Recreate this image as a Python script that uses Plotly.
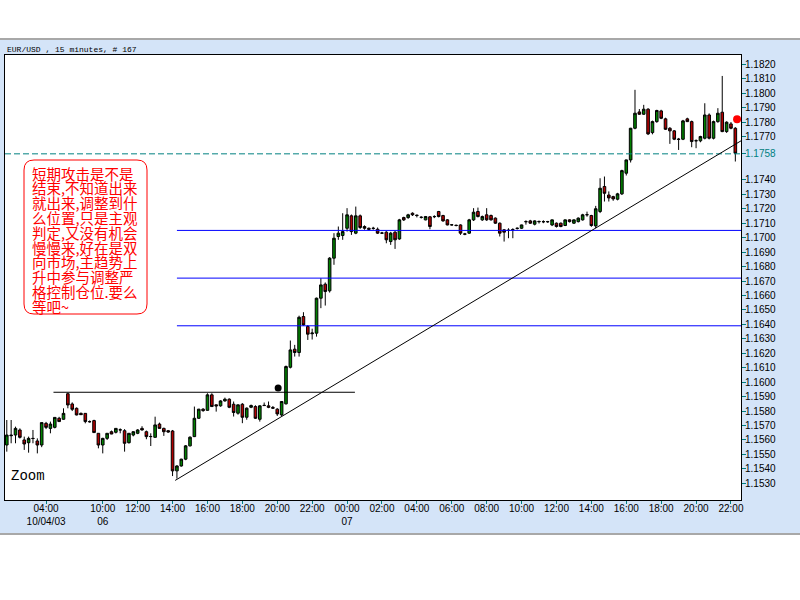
import plotly.graph_objects as go

# ---------------- data ----------------
bars = list(range(168))

opens = [1.15565, 1.15634, 1.15634, 1.15669, 1.15600, 1.15581, 1.15611, 1.15593, 1.15565, 1.15715,
         1.15680, 1.15687, 1.15750, 1.15743, 1.15920, 1.15849, 1.15819, 1.15784, 1.15784, 1.15727,
         1.15734, 1.15646, 1.15565, 1.15611, 1.15657, 1.15653, 1.15669, 1.15664, 1.15581, 1.15634,
         1.15646, 1.15680, 1.15657, 1.15623, 1.15618, 1.15710, 1.15680, 1.15664, 1.15662, 1.15386,
         1.15420, 1.15467, 1.15559, 1.15623, 1.15750, 1.15813, 1.15805, 1.15912, 1.15843, 1.15836,
         1.15870, 1.15882, 1.15847, 1.15785, 1.15847, 1.15757, 1.15826, 1.15831, 1.15743, 1.15840,
         1.15836, 1.15825, 1.15813, 1.15773, 1.15850, 1.16103, 1.16228, 1.16205, 1.16454, 1.16385,
         1.16335, 1.16339, 1.16581, 1.16678, 1.16632, 1.16858, 1.17008, 1.17015, 1.17065, 1.17151,
         1.17031, 1.17151, 1.17077, 1.17065, 1.17065, 1.17058, 1.17031, 1.17038, 1.16973, 1.17038,
         1.16991, 1.17139, 1.17139, 1.17169, 1.17156, 1.17140, 1.17123, 1.17144, 1.17145, 1.17181,
         1.17153, 1.17123, 1.17088, 1.17086, 1.17088, 1.17026, 1.17031, 1.17123, 1.17181, 1.17123,
         1.17158, 1.17153, 1.17135, 1.17100, 1.17054, 1.17050, 1.17056, 1.17063, 1.17065, 1.17110,
         1.17116, 1.17093, 1.17110, 1.17111, 1.17110, 1.17088, 1.17100, 1.17100, 1.17084, 1.17123,
         1.17100, 1.17111, 1.17123, 1.17158, 1.17153, 1.17081, 1.17181, 1.17354, 1.17295, 1.17284,
         1.17266, 1.17303, 1.17446, 1.17538, 1.17757, 1.17870, 1.17854, 1.17889, 1.17727, 1.17803,
         1.17877, 1.17822, 1.17757, 1.17739, 1.17682, 1.17681, 1.17822, 1.17803, 1.17670, 1.17670,
         1.17688, 1.17849, 1.17688, 1.17803, 1.17868, 1.17734, 1.17787, 1.17757]

highs = [1.15738, 1.15738, 1.15692, 1.15680, 1.15623, 1.15623, 1.15669, 1.15611, 1.15720, 1.15725,
         1.15727, 1.15756, 1.15760, 1.15819, 1.15927, 1.15860, 1.15825, 1.15790, 1.15784, 1.15735,
         1.15740, 1.15646, 1.15615, 1.15646, 1.15665, 1.15680, 1.15680, 1.15675, 1.15646, 1.15660,
         1.15675, 1.15695, 1.15665, 1.15646, 1.15761, 1.15720, 1.15685, 1.15669, 1.15669, 1.15425,
         1.15470, 1.15565, 1.15625, 1.15831, 1.15815, 1.15820, 1.15923, 1.15923, 1.15846, 1.15875,
         1.15893, 1.15888, 1.15866, 1.15845, 1.15855, 1.15825, 1.15845, 1.15840, 1.15840, 1.15859,
         1.15866, 1.15835, 1.15820, 1.15866, 1.16115, 1.16288, 1.16258, 1.16460, 1.16484, 1.16395,
         1.16370, 1.16585, 1.16719, 1.16690, 1.16865, 1.17031, 1.17077, 1.17169, 1.17204, 1.17160,
         1.17215, 1.17160, 1.17085, 1.17070, 1.17075, 1.17070, 1.17040, 1.17045, 1.17040, 1.17045,
         1.17130, 1.17145, 1.17165, 1.17175, 1.17160, 1.17148, 1.17150, 1.17150, 1.17155, 1.17185,
         1.17158, 1.17128, 1.17093, 1.17090, 1.17092, 1.17033, 1.17130, 1.17204, 1.17208, 1.17153,
         1.17204, 1.17160, 1.17140, 1.17105, 1.17060, 1.17065, 1.17065, 1.17070, 1.17090, 1.17120,
         1.17123, 1.17120, 1.17118, 1.17120, 1.17116, 1.17125, 1.17105, 1.17105, 1.17125, 1.17127,
         1.17126, 1.17140, 1.17165, 1.17180, 1.17158, 1.17220, 1.17411, 1.17423, 1.17320, 1.17290,
         1.17310, 1.17470, 1.17540, 1.17760, 1.18023, 1.17890, 1.17919, 1.17896, 1.17810, 1.17885,
         1.17885, 1.17830, 1.17765, 1.17745, 1.17690, 1.17815, 1.17830, 1.17810, 1.17680, 1.17705,
         1.17930, 1.17860, 1.17810, 1.17896, 1.18119, 1.17805, 1.17800, 1.17765]

lows = [1.15519, 1.15577, 1.15577, 1.15610, 1.15531, 1.15512, 1.15577, 1.15507, 1.15550, 1.15675,
        1.15646, 1.15680, 1.15725, 1.15740, 1.15819, 1.15800, 1.15770, 1.15775, 1.15715, 1.15720,
        1.15650, 1.15542, 1.15507, 1.15600, 1.15640, 1.15645, 1.15646, 1.15519, 1.15575, 1.15625,
        1.15640, 1.15665, 1.15605, 1.15558, 1.15618, 1.15680, 1.15628, 1.15650, 1.15350, 1.15332,
        1.15415, 1.15460, 1.15555, 1.15620, 1.15745, 1.15795, 1.15803, 1.15830, 1.15796, 1.15830,
        1.15865, 1.15820, 1.15762, 1.15775, 1.15716, 1.15740, 1.15820, 1.15745, 1.15727, 1.15835,
        1.15820, 1.15815, 1.15766, 1.15766, 1.15845, 1.16095, 1.16177, 1.16177, 1.16390, 1.16292,
        1.16295, 1.16315, 1.16512, 1.16530, 1.16620, 1.16812, 1.16985, 1.16985, 1.17042, 1.17019,
        1.17024, 1.17060, 1.17055, 1.17050, 1.17055, 1.17025, 1.17025, 1.16961, 1.16950, 1.16922,
        1.16985, 1.17115, 1.17130, 1.17150, 1.17140, 1.17132, 1.17120, 1.17058, 1.17135, 1.17140,
        1.17110, 1.17085, 1.17084, 1.17078, 1.17019, 1.17017, 1.17026, 1.17115, 1.17140, 1.17116,
        1.17116, 1.17118, 1.17095, 1.17008, 1.16973, 1.16996, 1.16996, 1.17056, 1.17060, 1.17090,
        1.17095, 1.17085, 1.17098, 1.17100, 1.17102, 1.17080, 1.17070, 1.17072, 1.17080, 1.17105,
        1.17095, 1.17105, 1.17118, 1.17145, 1.17075, 1.17065, 1.17170, 1.17250, 1.17250, 1.17255,
        1.17258, 1.17295, 1.17430, 1.17520, 1.17750, 1.17850, 1.17850, 1.17710, 1.17715, 1.17795,
        1.17820, 1.17745, 1.17649, 1.17675, 1.17607, 1.17675, 1.17800, 1.17626, 1.17619, 1.17660,
        1.17680, 1.17680, 1.17680, 1.17795, 1.17730, 1.17725, 1.17750, 1.17527]

closes = [1.15634, 1.15630, 1.15680, 1.15618, 1.15572, 1.15611, 1.15610, 1.15565, 1.15720, 1.15687,
          1.15710, 1.15756, 1.15727, 1.15784, 1.15842, 1.15812, 1.15773, 1.15775, 1.15727, 1.15726,
          1.15651, 1.15565, 1.15611, 1.15646, 1.15641, 1.15680, 1.15670, 1.15577, 1.15646, 1.15657,
          1.15669, 1.15669, 1.15623, 1.15624, 1.15704, 1.15680, 1.15657, 1.15655, 1.15386, 1.15420,
          1.15467, 1.15559, 1.15619, 1.15750, 1.15813, 1.15803, 1.15912, 1.15831, 1.15836, 1.15870,
          1.15882, 1.15826, 1.15790, 1.15843, 1.15757, 1.15820, 1.15838, 1.15750, 1.15836, 1.15838,
          1.15826, 1.15820, 1.15780, 1.15866, 1.16108, 1.16223, 1.16205, 1.16449, 1.16396, 1.16332,
          1.16340, 1.16581, 1.16673, 1.16627, 1.16858, 1.16996, 1.17031, 1.17042, 1.17158, 1.17042,
          1.17151, 1.17070, 1.17065, 1.17058, 1.17064, 1.17031, 1.17032, 1.16985, 1.17031, 1.16985,
          1.17123, 1.17123, 1.17158, 1.17158, 1.17153, 1.17141, 1.17146, 1.17077, 1.17146, 1.17146,
          1.17116, 1.17088, 1.17089, 1.17084, 1.17031, 1.17024, 1.17123, 1.17176, 1.17146, 1.17146,
          1.17123, 1.17123, 1.17100, 1.17031, 1.17038, 1.17051, 1.17055, 1.17065, 1.17088, 1.17111,
          1.17100, 1.17116, 1.17112, 1.17110, 1.17111, 1.17123, 1.17077, 1.17077, 1.17123, 1.17111,
          1.17123, 1.17135, 1.17158, 1.17159, 1.17084, 1.17200, 1.17342, 1.17307, 1.17275, 1.17268,
          1.17303, 1.17464, 1.17538, 1.17757, 1.17861, 1.17854, 1.17889, 1.17718, 1.17803, 1.17880,
          1.17826, 1.17750, 1.17739, 1.17681, 1.17680, 1.17808, 1.17803, 1.17665, 1.17671, 1.17700,
          1.17849, 1.17688, 1.17803, 1.17861, 1.17734, 1.17799, 1.17757, 1.17584]

time_tick_bars = [9, 22, 30, 38, 46, 54, 62, 70, 78, 86, 94, 102, 110, 118, 126, 134, 142, 150, 158, 166]
time_tick_labels = ["04:00<br>10/04/03", "10:00<br>06", "12:00", "14:00", "16:00", "18:00", "20:00",
                    "22:00", "00:00<br>07", "02:00", "04:00", "06:00", "08:00", "10:00", "12:00",
                    "14:00", "16:00", "18:00", "20:00", "22:00"]

price_ticks = [1.1530, 1.1540, 1.1550, 1.1560, 1.1570, 1.1580, 1.1590, 1.1600, 1.1610, 1.1620,
               1.1630, 1.1640, 1.1650, 1.1660, 1.1670, 1.1680, 1.1690, 1.1700, 1.1710, 1.1720,
               1.1730, 1.1740, 1.1758, 1.1770, 1.1780, 1.1790, 1.1800, 1.1810, 1.1820]
current_price = 1.1758

resistance_level = 1.1593
resistance_bars = [10.7, 79.8]
blue_levels = [1.1705, 1.1672, 1.1639]
blue_start_bar = 39
trend_bars = [38.6, 168.3]
trend_prices = [1.1532, 1.1767]
black_dot = (62.2, 1.1596)
red_dot = (167.4, 1.1782)

chart_title = "EUR/USD , 15 minutes, # 167"
note_lines = ["短期攻击是不是", "结束,不知道出来", "就出来,调整到什", "么位置,只是主观",
              "判定,又没有机会", "慢慢来,好在是双", "向市场,主趋势上", "升中参与调整严",
              "格控制仓位.要么", "等吧~"]

# ---------------- figure ----------------
W, H = 800, 600
PL, PR, PT, PB = 5, 741, 55, 500   # plot area in pixels


def px(xp):
    return (xp - PL) / (PR - PL)


def py(yp):
    return (PB - yp) / (PB - PT)


fig = go.Figure()
fig.add_trace(go.Candlestick(
    x=bars, open=opens, high=highs, low=lows, close=closes,
    increasing=dict(fillcolor="#008000", line=dict(color="black", width=1)),
    decreasing=dict(fillcolor="#B00000", line=dict(color="black", width=1)),
    whiskerwidth=0, showlegend=False, hoverinfo="skip"))

fig.add_trace(go.Scatter(x=[black_dot[0]], y=[black_dot[1]], mode="markers",
                         marker=dict(color="black", size=7), showlegend=False, hoverinfo="skip"))
fig.add_trace(go.Scatter(x=[red_dot[0]], y=[red_dot[1]], mode="markers",
                         marker=dict(color="#FF0000", size=8), showlegend=False, hoverinfo="skip",
                         cliponaxis=False))

shapes = []
# white strips and gray separators outside the chart window
shapes.append(dict(type="rect", xref="paper", yref="paper", x0=px(0), x1=px(W), y0=py(0), y1=py(38),
                   fillcolor="white", line=dict(width=0), layer="below"))
shapes.append(dict(type="rect", xref="paper", yref="paper", x0=px(0), x1=px(W), y0=py(535), y1=py(H),
                   fillcolor="white", line=dict(width=0), layer="below"))
shapes.append(dict(type="line", xref="paper", yref="paper", x0=px(0), x1=px(W), y0=py(39), y1=py(39),
                   line=dict(color="#A8A8A8", width=2)))
shapes.append(dict(type="line", xref="paper", yref="paper", x0=px(0), x1=px(W), y0=py(534), y1=py(534),
                   line=dict(color="#A8A8A8", width=2)))

# current price dashed line
shapes.append(dict(type="line", xref="paper", yref="y", x0=0, x1=1, y0=current_price, y1=current_price,
                   line=dict(color="#008080", width=1, dash="6px,3px")))
# blue levels
for lv in blue_levels:
    shapes.append(dict(type="line", xref="x", yref="y", x0=blue_start_bar, x1=trend_bars[1], y0=lv, y1=lv,
                       line=dict(color="#0000FF", width=1)))
# black resistance line
shapes.append(dict(type="line", xref="x", yref="y", x0=resistance_bars[0], x1=resistance_bars[1],
                   y0=resistance_level, y1=resistance_level, line=dict(color="black", width=1)))
# trend line
shapes.append(dict(type="line", xref="x", yref="y", x0=trend_bars[0], x1=trend_bars[1],
                   y0=trend_prices[0], y1=trend_prices[1], line=dict(color="black", width=1)))

# red rounded note box
bl, br, bt, bb, r = px(24), px(147), py(160), py(314), 10
rx, ry = r / (PR - PL), r / (PB - PT)
path = (f"M {bl+rx},{bt} L {br-rx},{bt} Q {br},{bt} {br},{bt-ry} L {br},{bb+ry} Q {br},{bb} {br-rx},{bb} "
        f"L {bl+rx},{bb} Q {bl},{bb} {bl},{bb+ry} L {bl},{bt-ry} Q {bl},{bt} {bl+rx},{bt} Z")
shapes.append(dict(type="path", xref="paper", yref="paper", path=path, fillcolor="white",
                   line=dict(color="#FF0000", width=1), layer="above"))

annotations = []
for k, line in enumerate(note_lines):
    annotations.append(dict(xref="paper", yref="paper", x=px(30), y=py(173 + k * 14.83),
                            xanchor="left", yanchor="middle", text=line, showarrow=False,
                            font=dict(family="Noto Sans CJK SC", size=14.5, color="#FF0000")))
annotations.append(dict(xref="paper", yref="paper", x=px(5), y=py(49), xanchor="left", yanchor="middle",
                        text=chart_title, showarrow=False,
                        font=dict(family="Liberation Mono", size=8, color="black")))
annotations.append(dict(xref="paper", yref="paper", x=px(9), y=py(476), xanchor="left", yanchor="middle",
                        text="Zoom", showarrow=False,
                        font=dict(family="Liberation Mono", size=14, color="black")))

ytext = []
for v in price_ticks:
    if v == current_price:
        ytext.append(f"<span style='color:#008080'>{v:.4f}</span>")
    else:
        ytext.append(f"{v:.4f}")

fig.update_layout(
    width=W, height=H,
    margin=dict(l=PL, r=W - PR, t=PT, b=H - PB, autoexpand=False),
    paper_bgcolor="#D4E4F8", plot_bgcolor="white",
    boxgap=0.15,
    shapes=shapes, annotations=annotations,
    xaxis=dict(range=[-0.41, 168.3], tickvals=time_tick_bars, ticktext=time_tick_labels,
               showgrid=False, zeroline=False, showline=True, linecolor="black", linewidth=1,
               mirror=True, ticks="outside", ticklen=3, tickcolor="#008080", ticklabelstandoff=-4,
               tickfont=dict(family="Liberation Sans", size=10, color="black"),
               rangeslider=dict(visible=False), fixedrange=True),
    yaxis=dict(range=[1.151844, 1.18264], side="right", tickvals=price_ticks, ticktext=ytext,
               showgrid=False, zeroline=False, showline=True, linecolor="black", linewidth=1,
               mirror=True, ticks="outside", ticklen=4, tickcolor="#008080", ticklabelstandoff=-3,
               tickfont=dict(family="Liberation Sans", size=10, color="black"), fixedrange=True),
    font=dict(family="Liberation Sans"),
)

fig.write_html("out.html", post_script="document.body.style.margin='0';",
               config={"displayModeBar": False, "staticPlot": True})
